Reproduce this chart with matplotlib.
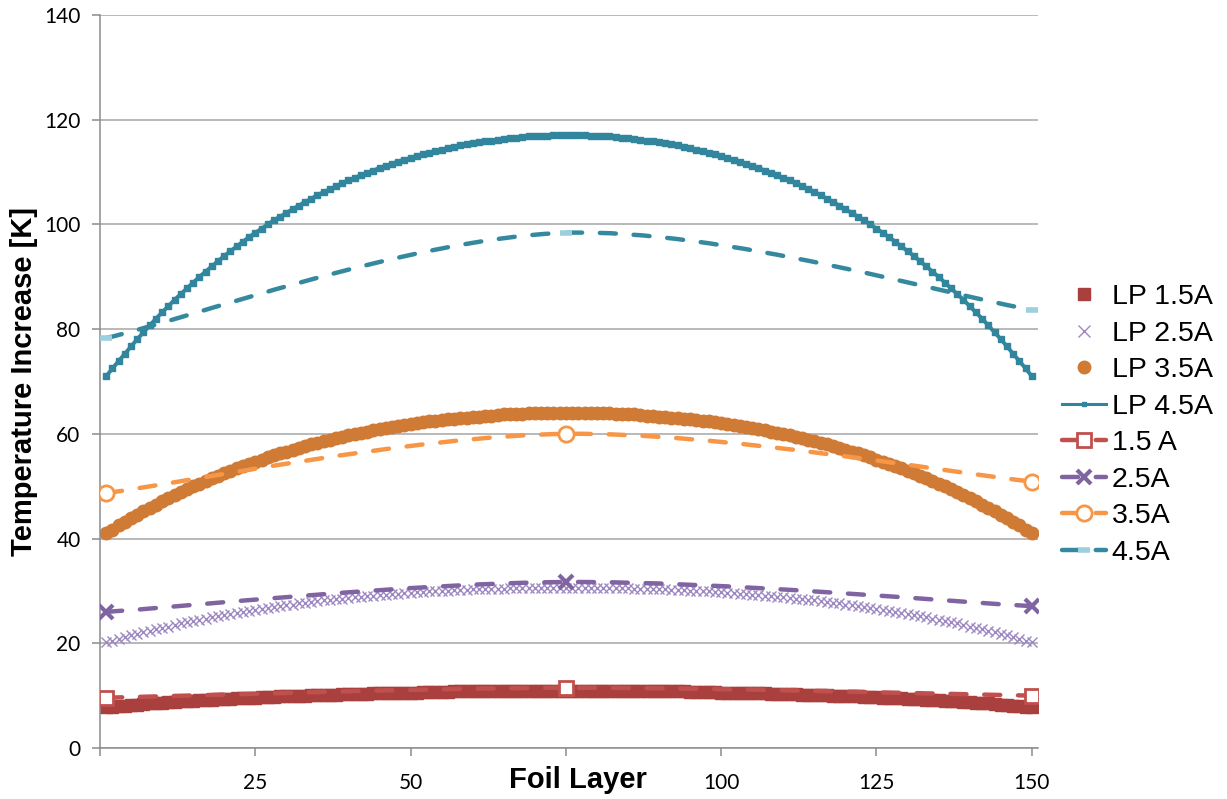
import matplotlib
matplotlib.use("Agg")
import matplotlib.pyplot as plt
from matplotlib.path import Path
from matplotlib.patches import PathPatch
from matplotlib.lines import Line2D

# foil layer index for the LP (lumped parameter) model
layers = list(range(1, 151))

lp_15 = [7.8, 7.9, 8.0, 8.1, 8.2, 8.3, 8.4, 8.5, 8.5, 8.6, 8.7, 8.8, 8.9, 8.9, 9.0,
         9.1, 9.1, 9.2, 9.3, 9.3, 9.4, 9.5, 9.5, 9.6, 9.6, 9.7, 9.8, 9.8, 9.9, 9.9,
         10.0, 10.0, 10.0, 10.1, 10.1, 10.2, 10.2, 10.2, 10.3, 10.3, 10.4, 10.4, 10.4, 10.5, 10.5,
         10.5, 10.5, 10.6, 10.6, 10.6, 10.6, 10.7, 10.7, 10.7, 10.7, 10.7, 10.8, 10.8, 10.8, 10.8,
         10.8, 10.8, 10.8, 10.8, 10.9, 10.9, 10.9, 10.9, 10.9, 10.9, 10.9, 10.9, 10.9, 10.9, 10.9,
         10.9, 10.9, 10.9, 10.9, 10.9, 10.9, 10.9, 10.9, 10.9, 10.9, 10.9, 10.8, 10.8, 10.8, 10.8,
         10.8, 10.8, 10.8, 10.8, 10.7, 10.7, 10.7, 10.7, 10.7, 10.6, 10.6, 10.6, 10.6, 10.5, 10.5,
         10.5, 10.5, 10.4, 10.4, 10.4, 10.3, 10.3, 10.2, 10.2, 10.2, 10.1, 10.1, 10.0, 10.0, 10.0,
         9.9, 9.9, 9.8, 9.8, 9.7, 9.6, 9.6, 9.5, 9.5, 9.4, 9.3, 9.3, 9.2, 9.1, 9.1,
         9.0, 8.9, 8.9, 8.8, 8.7, 8.6, 8.5, 8.5, 8.4, 8.3, 8.2, 8.1, 8.0, 7.9, 7.8]

lp_25 = [20.2, 20.5, 20.9, 21.2, 21.5, 21.8, 22.1, 22.4, 22.7, 23.0, 23.2, 23.5, 23.8, 24.0, 24.3,
         24.5, 24.7, 25.0, 25.2, 25.4, 25.6, 25.8, 26.0, 26.2, 26.4, 26.6, 26.8, 26.9, 27.1, 27.3,
         27.4, 27.6, 27.7, 27.9, 28.0, 28.2, 28.3, 28.4, 28.5, 28.7, 28.8, 28.9, 29.0, 29.1, 29.2,
         29.3, 29.4, 29.5, 29.6, 29.6, 29.7, 29.8, 29.9, 29.9, 30.0, 30.0, 30.1, 30.2, 30.2, 30.3,
         30.3, 30.3, 30.4, 30.4, 30.4, 30.5, 30.5, 30.5, 30.5, 30.6, 30.6, 30.6, 30.6, 30.6, 30.6,
         30.6, 30.6, 30.6, 30.6, 30.6, 30.6, 30.5, 30.5, 30.5, 30.5, 30.4, 30.4, 30.4, 30.3, 30.3,
         30.3, 30.2, 30.2, 30.1, 30.0, 30.0, 29.9, 29.9, 29.8, 29.7, 29.6, 29.6, 29.5, 29.4, 29.3,
         29.2, 29.1, 29.0, 28.9, 28.8, 28.7, 28.5, 28.4, 28.3, 28.2, 28.0, 27.9, 27.7, 27.6, 27.4,
         27.3, 27.1, 26.9, 26.8, 26.6, 26.4, 26.2, 26.0, 25.8, 25.6, 25.4, 25.2, 25.0, 24.7, 24.5,
         24.3, 24.0, 23.8, 23.5, 23.2, 23.0, 22.7, 22.4, 22.1, 21.8, 21.5, 21.2, 20.9, 20.5, 20.2]

lp_35 = [41.0, 41.7, 42.5, 43.2, 43.9, 44.5, 45.2, 45.9, 46.5, 47.1, 47.7, 48.3, 48.9, 49.4, 50.0,
         50.5, 51.0, 51.5, 52.0, 52.5, 53.0, 53.4, 53.8, 54.3, 54.7, 55.1, 55.5, 55.9, 56.3, 56.6,
         57.0, 57.3, 57.6, 58.0, 58.3, 58.6, 58.9, 59.2, 59.4, 59.7, 59.9, 60.2, 60.4, 60.7, 60.9,
         61.1, 61.3, 61.5, 61.7, 61.9, 62.0, 62.2, 62.4, 62.5, 62.6, 62.8, 62.9, 63.0, 63.1, 63.2,
         63.3, 63.4, 63.5, 63.6, 63.7, 63.7, 63.8, 63.8, 63.9, 63.9, 63.9, 64.0, 64.0, 64.0, 64.0,
         64.0, 64.0, 64.0, 64.0, 63.9, 63.9, 63.9, 63.8, 63.8, 63.7, 63.7, 63.6, 63.5, 63.4, 63.3,
         63.2, 63.1, 63.0, 62.9, 62.8, 62.6, 62.5, 62.4, 62.2, 62.0, 61.9, 61.7, 61.5, 61.3, 61.1,
         60.9, 60.7, 60.4, 60.2, 59.9, 59.7, 59.4, 59.2, 58.9, 58.6, 58.3, 58.0, 57.6, 57.3, 57.0,
         56.6, 56.3, 55.9, 55.5, 55.1, 54.7, 54.3, 53.8, 53.4, 53.0, 52.5, 52.0, 51.5, 51.0, 50.5,
         50.0, 49.4, 48.9, 48.3, 47.7, 47.1, 46.5, 45.9, 45.2, 44.5, 43.9, 43.2, 42.5, 41.7, 41.0]

lp_45 = [71.0, 72.5, 73.9, 75.3, 76.7, 78.1, 79.4, 80.7, 82.0, 83.2, 84.4, 85.6, 86.7, 87.8, 88.9,
         90.0, 91.0, 92.0, 93.0, 94.0, 94.9, 95.8, 96.7, 97.6, 98.4, 99.2, 100.0, 100.8, 101.5, 102.2,
         102.9, 103.6, 104.3, 104.9, 105.6, 106.2, 106.7, 107.3, 107.9, 108.4, 108.9, 109.4, 109.9, 110.3, 110.8,
         111.2, 111.6, 112.0, 112.4, 112.7, 113.1, 113.4, 113.7, 114.0, 114.3, 114.6, 114.8, 115.1, 115.3, 115.5,
         115.7, 115.9, 116.0, 116.2, 116.3, 116.5, 116.6, 116.7, 116.8, 116.8, 116.9, 116.9, 117.0, 117.0, 117.0,
         117.0, 117.0, 117.0, 116.9, 116.9, 116.8, 116.8, 116.7, 116.6, 116.5, 116.3, 116.2, 116.0, 115.9, 115.7,
         115.5, 115.3, 115.1, 114.8, 114.6, 114.3, 114.0, 113.7, 113.4, 113.1, 112.7, 112.4, 112.0, 111.6, 111.2,
         110.8, 110.3, 109.9, 109.4, 108.9, 108.4, 107.9, 107.3, 106.7, 106.2, 105.6, 104.9, 104.3, 103.6, 102.9,
         102.2, 101.5, 100.8, 100.0, 99.2, 98.4, 97.6, 96.7, 95.8, 94.9, 94.0, 93.0, 92.0, 91.0, 90.0,
         88.9, 87.8, 86.7, 85.6, 84.4, 83.2, 82.0, 80.7, 79.4, 78.1, 76.7, 75.3, 73.9, 72.5, 71.0]

# measured / simulated points (3 per current)
meas_layers = [1, 75, 150]
meas_15 = [9.6, 11.5, 10.0]
meas_25 = [26.0, 31.7, 27.1]
meas_35 = [48.7, 60.0, 50.9]
meas_45 = [78.3, 98.4, 83.7]


def smooth_path(xs, ys):
    # excel style smoothed line: cubic bezier with catmull-rom control points
    pts = list(zip(xs, ys))
    n = len(pts)
    verts = [pts[0]]
    codes = [Path.MOVETO]
    for i in range(n - 1):
        p0 = pts[i - 1] if i > 0 else pts[i]
        p1 = pts[i]
        p2 = pts[i + 1]
        p3 = pts[i + 2] if i + 2 < n else pts[i + 1]
        c1 = (p1[0] + (p2[0] - p0[0]) / 6, p1[1] + (p2[1] - p0[1]) / 6)
        c2 = (p2[0] - (p3[0] - p1[0]) / 6, p2[1] - (p3[1] - p1[1]) / 6)
        verts += [c1, c2, p2]
        codes += [Path.CURVE4] * 3
    return Path(verts, codes)


fig = plt.figure(figsize=(12.27, 7.99), dpi=100)
ax = fig.add_axes([100 / 1227, 51 / 799, 938 / 1227, 733 / 799])

grid_c = '#a6a6a6'
ax.set_xlim(0, 151)
ax.set_ylim(0, 140)
ax.set_yticks(range(0, 141, 20))
ax.yaxis.grid(True, color=grid_c, lw=1.1)
ax.set_axisbelow(True)
for s in ['top', 'right']:
    ax.spines[s].set_visible(False)
for s in ['left', 'bottom']:
    ax.spines[s].set_color('#8c8c8c')
    ax.spines[s].set_linewidth(1.1)

ax.set_xticks([0, 25, 50, 75, 100, 125, 150])
ax.set_xticklabels(['', '25', '50', '', '100', '125', '150'])
ax.tick_params(axis='both', colors='#8c8c8c', length=6, width=1.1, labelcolor='black',
               labelsize=15)
ax.tick_params(axis='x', pad=12)
ax.tick_params(axis='y', pad=8)
for lab in ax.get_xticklabels() + ax.get_yticklabels():
    lab.set_fontfamily('Lato')

# LP model curves
ax.plot(layers, lp_15, ls='none', marker='s', ms=9, color='#a9403e', mec='#a9403e')
ax.plot(layers, lp_25, ls='none', marker='x', ms=7.5, mew=1.0, color='#9d88c2')
ax.plot(layers, lp_35, ls='none', marker='o', ms=9, color='#cf7a35', mec='#cf7a35')
ax.plot(layers, lp_45, ls='-', lw=2.8, marker='s', ms=4.2, color='#31859c')

# measured curves, smoothed dashed lines
dash = (0, (3.6, 4.0))
series = [
    (meas_15, '#c0504d', dict(marker='s', ms=10, mew=2, mfc='white', mec='#c0504d')),
    (meas_25, '#8064a2', dict(marker='x', ms=10, mew=3, mec='#8064a2')),
    (meas_35, '#f79646', dict(marker='o', ms=11, mew=2, mfc='white', mec='#f79646')),
    (meas_45, '#34899f', dict(marker='_', ms=8, mew=4, mec='#9dcfdc')),
]
for vals, c, mk in series:
    ax.add_patch(PathPatch(smooth_path(meas_layers, vals), fill=False, edgecolor=c,
                           lw=3.2, linestyle=dash, capstyle='round', zorder=3))
    ax.plot(meas_layers, vals, ls='none', zorder=4, **mk)

ax.set_ylabel('Temperature Increase [K]', fontsize=21, fontweight='bold',
              fontfamily='Liberation Sans')
ax.yaxis.set_label_coords(-0.066, 0.5)
ax.set_xlabel('Foil Layer', fontsize=21, fontweight='bold', fontfamily='Liberation Sans',
              va='center')
ax.xaxis.set_label_coords(0.51, -0.043)

handles = [
    Line2D([], [], ls='none', marker='s', ms=9, color='#a9403e'),
    Line2D([], [], ls='none', marker='x', ms=9, mew=1, color='#9d88c2'),
    Line2D([], [], ls='none', marker='o', ms=9, color='#cf7a35'),
    Line2D([], [], ls='-', lw=2.2, marker='s', ms=3.5, color='#31859c'),
]
for vals, c, mk in series:
    handles.append(Line2D([], [], color=c, lw=3.2, ls=dash, solid_capstyle='round',
                          dash_capstyle='round', **mk))
labels = ['LP 1.5A', 'LP 2.5A', 'LP 3.5A', 'LP 4.5A', '1.5 A', '2.5A', '3.5A', '4.5A']
fig.legend(handles, labels, loc='center left', bbox_to_anchor=(1062 / 1227, 1 - 425 / 799),
           frameon=False, numpoints=1, handlelength=1.55, handletextpad=0.2,
           labelspacing=0.37, borderpad=0, borderaxespad=0,
           prop={'family': 'Liberation Sans', 'size': 20.5})

fig.savefig('out.png', dpi=100)
